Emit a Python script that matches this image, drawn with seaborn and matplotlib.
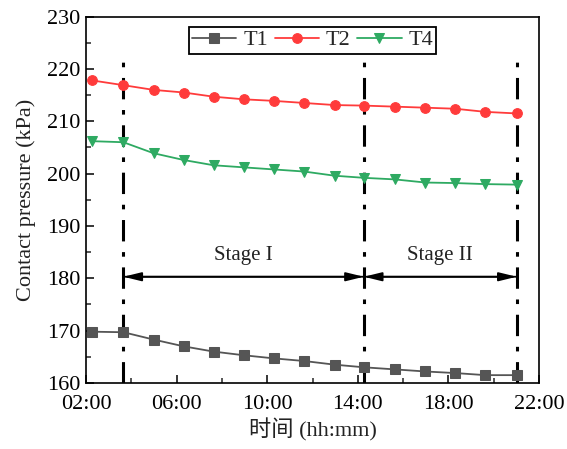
import matplotlib
matplotlib.use("Agg")
import matplotlib.pyplot as plt
import matplotlib.ticker as mticker
import seaborn as sns
import pandas as pd

times = ["02:17", "03:39", "04:59", "06:19", "07:38", "08:58", "10:18", "11:38",
         "12:59", "14:16", "15:38", "16:59", "18:18", "19:38", "21:01"]
t1 = [169.8, 169.7, 168.3, 167.0, 166.0, 165.3, 164.7, 164.2, 163.5, 163.0, 162.6, 162.2, 161.9, 161.5, 161.5]
t2 = [217.8, 216.9, 216.0, 215.5, 214.7, 214.2, 213.9, 213.5, 213.1, 213.0, 212.8, 212.6, 212.4, 211.8, 211.5]
t4 = [206.2, 206.0, 203.9, 202.6, 201.6, 201.2, 200.8, 200.4, 199.6, 199.2, 198.9, 198.3, 198.2, 198.0, 197.9]
stage_bounds = ["03:39", "14:16", "21:01"]
stage_labels = ["Stage I", "Stage II"]
xtick_labels = ["02:00", "06:00", "10:00", "14:00", "18:00", "22:00"]


def to_h(s):
    h, m = s.split(":")
    return int(h) + int(m) / 60.0


hours = [to_h(s) for s in times]
df = pd.DataFrame({"hour": hours, "T1": t1, "T2": t2, "T4": t4})

sns.set_theme(style="ticks")
plt.rcParams["font.family"] = ["Liberation Serif", "Noto Sans CJK SC"]

fig = plt.figure(figsize=(5.67, 4.49), dpi=100)
ax = fig.add_axes([0.1517, 0.147, 0.7989, 0.816])

styles = [("T1", "#555555", "s"), ("T2", "#ff3b3b", "o"), ("T4", "#2eaa62", "v")]
for name, col, mk in styles:
    sns.lineplot(data=df, x="hour", y=name, ax=ax, color=col, marker=mk,
                 markersize=7, markeredgecolor=col, linewidth=1.3, label=name)

# stage boundaries
bounds = [to_h(s) for s in stage_bounds]
for b in bounds:
    ax.plot([b, b], [160, 222.3], color="black", lw=2.2, linestyle=(0, (7, 3.5, 1.5, 3.5)), zorder=1)

arrow_y = 180.3
for i, lab in enumerate(stage_labels):
    a, b = bounds[i], bounds[i + 1]
    ax.annotate("", xy=(a, arrow_y), xytext=(b, arrow_y),
                arrowprops=dict(arrowstyle="|-|,widthA=0.35,widthB=0.35", color="black", lw=1.3,
                                shrinkA=0, shrinkB=0))
    ax.annotate("", xy=(a, arrow_y), xytext=(b, arrow_y),
                arrowprops=dict(arrowstyle="<|-|>,head_length=0.9,head_width=0.22", color="black", lw=1.3,
                                shrinkA=0, shrinkB=0))
    ax.text((a + b) / 2, 184.3, lab, ha="center", va="center", fontsize=15, color="#222222")

ax.set_xlim(2, 22)
ax.set_ylim(160, 230)
ax.set_xticks([2, 6, 10, 14, 18, 22])
ax.set_xticklabels(xtick_labels)
ax.xaxis.set_minor_locator(mticker.MultipleLocator(2))
ax.yaxis.set_major_locator(mticker.MultipleLocator(10))
ax.yaxis.set_minor_locator(mticker.MultipleLocator(5))
ax.tick_params(axis="both", which="major", direction="in", length=6, width=1.1,
               labelsize=16, colors="black")
ax.tick_params(axis="x", which="major", pad=9)
ax.tick_params(axis="y", which="major", pad=4)
ax.tick_params(axis="both", which="minor", direction="in", length=3.5, width=1.1)
for sp in ax.spines.values():
    sp.set_visible(True)
    sp.set_linewidth(1.2)
    sp.set_color("black")

ax.set_xlabel("时间 (hh:mm)", fontsize=16, color="#222222", labelpad=3)
ax.set_ylabel("Contact pressure (kPa)", fontsize=16, color="#222222", labelpad=8)

leg = ax.legend(loc="upper center", bbox_to_anchor=(0.5, 0.985), ncol=3, fontsize=16,
                frameon=True, fancybox=False, edgecolor="black", handlelength=2.0,
                handletextpad=0.3, columnspacing=0.3, borderpad=0.15, borderaxespad=0.2)
leg.get_frame().set_linewidth(1.3)
leg.get_frame().set_alpha(1)

fig.savefig("out.png", dpi=100)
